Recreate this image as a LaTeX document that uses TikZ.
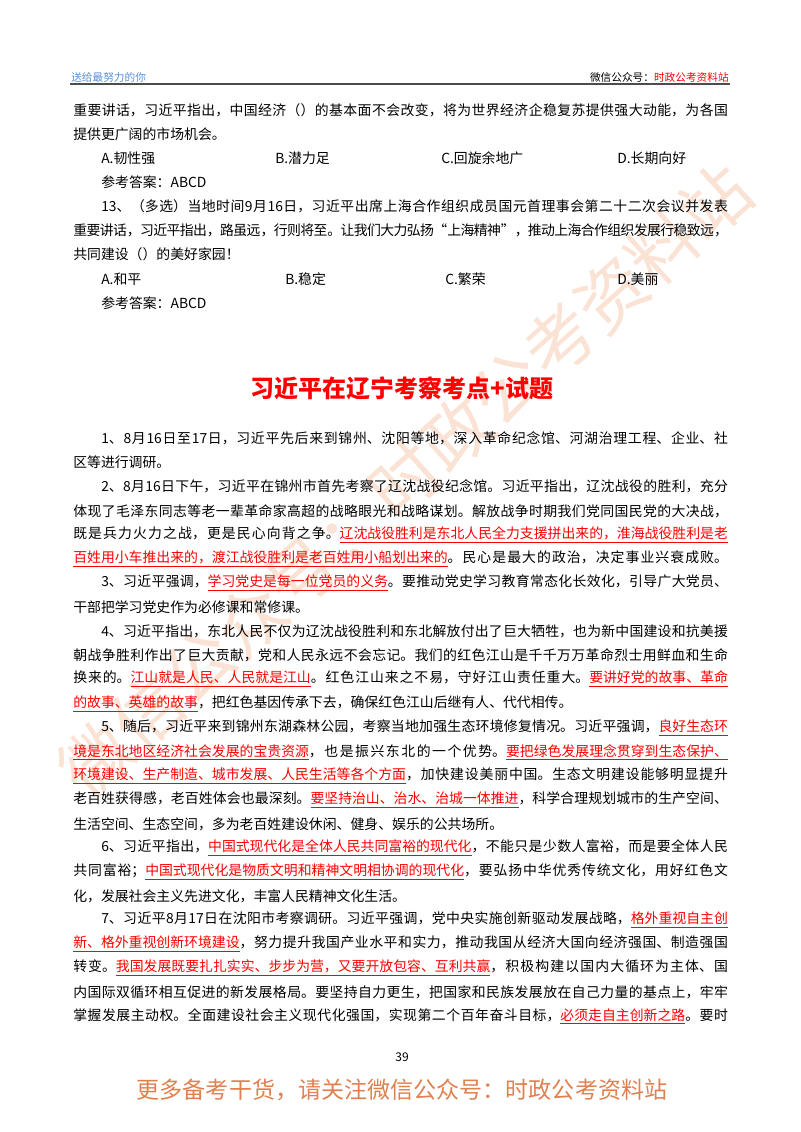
\documentclass[tikz,border=0pt]{standalone}
\usepackage{fontspec}
\setmainfont{Noto Sans CJK SC}
\newfontfamily\cjk{Noto Sans CJK SC}
\definecolor{hdrblue}{HTML}{5B8FD6}
\definecolor{wmorange}{HTML}{F0A070}
\definecolor{ftorange}{HTML}{E0804F}
\newcommand{\hl}[1]{\textcolor{red}{\underline{#1}}}
\newcommand{\bodyfont}{\cjk\fontsize{10.4}{14}\selectfont}
\tikzset{
  body/.style = {anchor=west, inner sep=0pt, font=\bodyfont},
  full/.style = {body, text width=#1, align=justify,
    execute at begin node={\XeTeXlinebreaklocale "zh"\XeTeXlinebreakskip=0pt plus 3pt minus 0.6pt\XeTeXlinebreakpenalty=10000\parfillskip=0pt\hyphenpenalty=10000\tolerance=10000\hbadness=10000\hfuzz=20pt}},
  full/.default = 491pt,
  ind/.style = {full=470pt},
  opt/.style = {body},
  hdr/.style = {inner sep=0pt, font=\cjk\fontsize{8}{9}\selectfont}
}
\begin{document}
\begin{tikzpicture}[x=0.75pt, y=-0.75pt]
  \useasboundingbox (0,0) rectangle (800,1132);
  % watermark
  \node[rotate=42, text=wmorange, opacity=0.3, font=\cjk\fontsize{52}{54}\selectfont] (wm) at (405,480) {微信公众号：时政公考资料站};
  % header
  \node[hdr, anchor=west, text=hdrblue] (hl) at (71,77) {送给最努力的你};
  \node[hdr, anchor=east] (hr) at (729,77) {微信公众号：\textcolor{red}{时政公考资料站}};
  \draw[line width=1.2pt, black!70] (70,84) -- (730,84);
  % question 12 tail
  \node[full] (q1) at (73,110) {重要讲话，习近平指出，中国经济（）的基本面不会改变，将为世界经济企稳复苏提供强大动能，为各国};
  \node[body] (q2) at (73,134) {提供更广阔的市场机会。};
  \node[opt] (oa) at (101,158) {A.韧性强};
  \node[opt] (ob) at (275,158) {B.潜力足};
  \node[opt] (oc) at (441,158) {C.回旋余地广};
  \node[opt] (od) at (617,158) {D.长期向好};
  \node[body] (ans1) at (101,182) {参考答案：ABCD};
  % question 13
  \node[ind] (r1) at (101,206) {13、（多选）当地时间9月16日，习近平出席上海合作组织成员国元首理事会第二十二次会议并发表};
  \node[full] (r2) at (73,230) {重要讲话，习近平指出，路虽远，行则将至。让我们大力弘扬“上海精神”，推动上海合作组织发展行稳致远，};
  \node[body] (r3) at (73,254) {共同建设（）的美好家园！};
  \node[opt] (pa) at (101,279) {A.和平};
  \node[opt] (pb) at (285,279) {B.稳定};
  \node[opt] (pc) at (445,279) {C.繁荣};
  \node[opt] (pd) at (617,279) {D.美丽};
  \node[body] (ans2) at (101,303) {参考答案：ABCD};
  % title
  \node[inner sep=0pt, text=red, font=\cjk\bfseries\fontsize{18}{20}\selectfont] (title) at (402,388) {习近平在辽宁考察考点+试题};
  % points
  \node[ind] (a1) at (101,438) {1、8月16日至17日，习近平先后来到锦州、沈阳等地，深入革命纪念馆、河湖治理工程、企业、社};
  \node[body] (a2) at (73,462) {区等进行调研。};
  \node[ind] (b1) at (101,486) {2、8月16日下午，习近平在锦州市首先考察了辽沈战役纪念馆。习近平指出，辽沈战役的胜利，充分};
  \node[full] (b2) at (73,511) {体现了毛泽东同志等老一辈革命家高超的战略眼光和战略谋划。解放战争时期我们党同国民党的大决战，};
  \node[full] (b3) at (73,535) {既是兵力火力之战，更是民心向背之争。\hl{辽沈战役胜利是东北人民全力支援拼出来的，淮海战役胜利是老}};
  \node[full] (b4) at (73,559) {\hl{百姓用小车推出来的，渡江战役胜利是老百姓用小船划出来的}。民心是最大的政治，决定事业兴衰成败。};
  \node[ind] (c1) at (101,583) {3、习近平强调，\hl{学习党史是每一位党员的义务}。要推动党史学习教育常态化长效化，引导广大党员、};
  \node[body] (c2) at (73,607) {干部把学习党史作为必修课和常修课。};
  \node[ind] (d1) at (101,631) {4、习近平指出，东北人民不仅为辽沈战役胜利和东北解放付出了巨大牺牲，也为新中国建设和抗美援};
  \node[full] (d2) at (73,655) {朝战争胜利作出了巨大贡献，党和人民永远不会忘记。我们的红色江山是千千万万革命烈士用鲜血和生命};
  \node[full] (d3) at (73,679) {换来的。\hl{江山就是人民、人民就是江山}。红色江山来之不易，守好江山责任重大。\hl{要讲好党的故事、革命}};
  \node[body] (d4) at (73,704) {\hl{的故事、英雄的故事}，把红色基因传承下去，确保红色江山后继有人、代代相传。};
  \node[ind] (e1) at (101,728) {5、随后，习近平来到锦州东湖森林公园，考察当地加强生态环境修复情况。习近平强调，\hl{良好生态环}};
  \node[full] (e2) at (73,752) {\hl{境是东北地区经济社会发展的宝贵资源}，也是振兴东北的一个优势。\hl{要把绿色发展理念贯穿到生态保护、}};
  \node[full] (e3) at (73,776) {\hl{环境建设、生产制造、城市发展、人民生活等各个方面}，加快建设美丽中国。生态文明建设能够明显提升};
  \node[full] (e4) at (73,800) {老百姓获得感，老百姓体会也最深刻。\hl{要坚持治山、治水、治城一体推进}，科学合理规划城市的生产空间、};
  \node[body] (e5) at (73,824) {生活空间、生态空间，多为老百姓建设休闲、健身、娱乐的公共场所。};
  \node[ind] (f1) at (101,848) {6、习近平指出，\hl{中国式现代化是全体人民共同富裕的现代化}，不能只是少数人富裕，而是要全体人民};
  \node[full] (f2) at (73,872) {共同富裕；\hl{中国式现代化是物质文明和精神文明相协调的现代化}，要弘扬中华优秀传统文化，用好红色文};
  \node[body] (f3) at (73,896) {化，发展社会主义先进文化，丰富人民精神文化生活。};
  \node[ind] (g1) at (101,920) {7、习近平8月17日在沈阳市考察调研。习近平强调，党中央实施创新驱动发展战略，\hl{格外重视自主创}};
  \node[full] (g2) at (73,944) {\hl{新、格外重视创新环境建设}，努力提升我国产业水平和实力，推动我国从经济大国向经济强国、制造强国};
  \node[full] (g3) at (73,968) {转变。\hl{我国发展既要扎扎实实、步步为营，又要开放包容、互利共赢}，积极构建以国内大循环为主体、国};
  \node[full] (g4) at (73,992) {内国际双循环相互促进的新发展格局。要坚持自力更生，把国家和民族发展放在自己力量的基点上，牢牢};
  \node[full] (g5) at (73,1016) {掌握发展主动权。全面建设社会主义现代化强国，实现第二个百年奋斗目标，\hl{必须走自主创新之路}。要时};
  % footer
  \node[inner sep=0pt, font=\cjk\fontsize{9}{10}\selectfont] (pg) at (402,1057) {39};
  \node[inner sep=0pt, text=ftorange, font=\cjk\fontsize{17.3}{19}\selectfont] (ft) at (402,1090) {更多备考干货，请关注微信公众号：时政公考资料站};
\end{tikzpicture}
\end{document}
